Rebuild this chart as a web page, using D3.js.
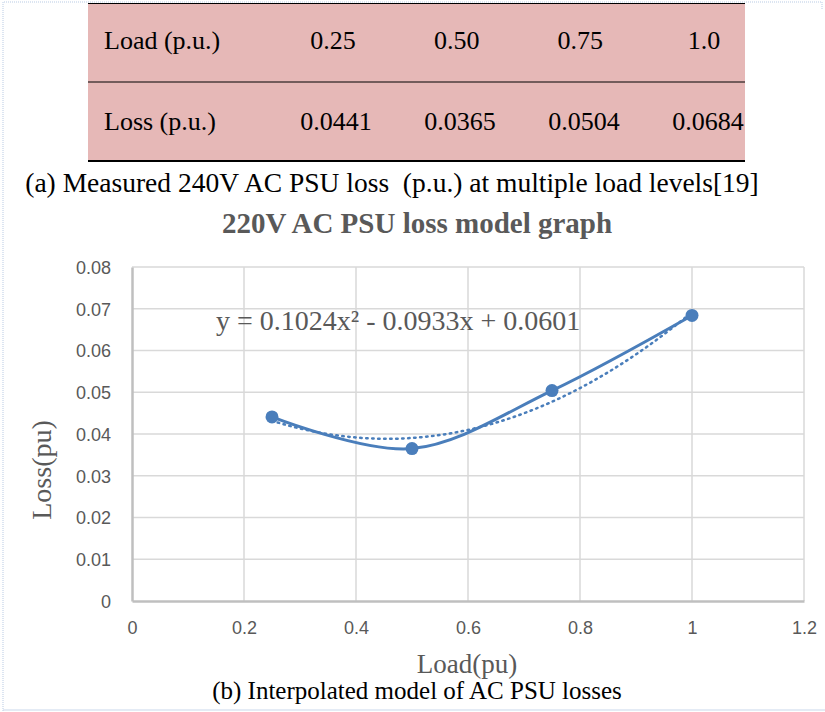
<!DOCTYPE html>
<html>
<head>
<meta charset="utf-8">
<script src="https://cdn.jsdelivr.net/npm/d3@7"></script>
<style>
  html, body { margin: 0; padding: 0; background: #fff; }
  svg { display: block; }
</style>
</head>
<body>
<svg id="fig" width="825" height="712"></svg>
<script>
// Measured PSU loss at each load level
const loadLevels = [0.25, 0.5, 0.75, 1.0];
const loadLabels = ["0.25", "0.50", "0.75", "1.0"];
const lossValues = [0.0441, 0.0365, 0.0504, 0.0684];
const lossLabels = ["0.0441", "0.0365", "0.0504", "0.0684"];

// Quadratic trendline coefficients (a, b, c) for y = a x^2 + b x + c
const trendCoeffs = [0.1024, -0.0933, 0.0601];
const trendLabel = "y = 0.1024x\u00B2 - 0.0933x + 0.0601";

const xTicks = [0, 0.2, 0.4, 0.6, 0.8, 1, 1.2];
const yTicks = [0, 0.01, 0.02, 0.03, 0.04, 0.05, 0.06, 0.07, 0.08];

const svg = d3.select("#fig");
const serif = "'Liberation Serif', 'Times New Roman', serif";
const sans = "'Liberation Sans', Arial, sans-serif";
const blue = "#4a7ebb";
const grey = "#595959";

// faint page frame
svg.append("path")
  .attr("d", "M3,711 L3,2 L822,2 L822,10")
  .attr("fill", "none").attr("stroke", "#b9cbe4").attr("stroke-width", 1)
  .attr("stroke-dasharray", "1,1");
svg.append("line").attr("x1", 3).attr("x2", 825).attr("y1", 710).attr("y2", 710)
  .attr("stroke", "#c9d7ea").attr("stroke-width", 1);

// ---- (a) table ----
const tbl = svg.append("g");
tbl.append("rect").attr("x", 88).attr("y", 3).attr("width", 657).attr("height", 158)
  .attr("fill", "#e6b8b7");
tbl.append("line").attr("x1", 88).attr("x2", 745).attr("y1", 3.5).attr("y2", 3.5)
  .attr("stroke", "#000").attr("stroke-width", 1);
tbl.append("line").attr("x1", 88).attr("x2", 745).attr("y1", 82).attr("y2", 82)
  .attr("stroke", "#000").attr("stroke-width", 1);
tbl.append("line").attr("x1", 88).attr("x2", 745).attr("y1", 161).attr("y2", 161)
  .attr("stroke", "#000").attr("stroke-width", 2);

const rows = [
  { head: "Load (p.u.)", cells: loadLabels, y: 49, range: [333, 704] },
  { head: "Loss (p.u.)", cells: lossLabels, y: 130, range: [336, 708] }
];
rows.forEach(r => {
  const col = d3.scalePoint().domain(d3.range(r.cells.length)).range(r.range);
  tbl.append("text").attr("x", 104).attr("y", r.y).text(r.head)
    .attr("font-family", serif).attr("font-size", 26).attr("fill", "#000");
  tbl.selectAll(null).data(r.cells).join("text")
    .attr("x", (d, i) => col(i)).attr("y", r.y).attr("text-anchor", "middle")
    .attr("font-family", serif).attr("font-size", 26).attr("fill", "#000")
    .text(d => d);
});

svg.append("text").attr("x", 392).attr("y", 192).attr("text-anchor", "middle")
  .attr("font-family", serif).attr("font-size", 27.5).attr("fill", "#000")
  .attr("xml:space", "preserve")
  .text("(a) Measured 240V AC PSU loss  (p.u.) at multiple load levels[19]");

// ---- (b) chart ----
svg.append("text").attr("x", 417).attr("y", 233).attr("text-anchor", "middle")
  .attr("font-family", serif).attr("font-size", 29).attr("font-weight", "bold")
  .attr("fill", grey).text("220V AC PSU loss model graph");

const x = d3.scaleLinear().domain([0, 1.2]).range([132, 804]);
const y = d3.scaleLinear().domain([0, 0.08]).range([601, 267]);

const grid = svg.append("g");
grid.selectAll(".hg").data(yTicks.slice(1)).join("line")
  .attr("x1", x(0)).attr("x2", x(1.2)).attr("y1", d => y(d)).attr("y2", d => y(d))
  .attr("stroke", "#d9d9d9").attr("stroke-width", 1.5);
grid.selectAll(".vg").data(xTicks.slice(1)).join("line")
  .attr("x1", d => x(d)).attr("x2", d => x(d)).attr("y1", y(0)).attr("y2", y(0.08))
  .attr("stroke", "#d9d9d9").attr("stroke-width", 1.5);

// axes
const yAxis = svg.append("g").attr("transform", `translate(${x(0)},0)`)
  .call(d3.axisLeft(y).tickValues(yTicks).tickSize(0).tickPadding(21)
    .tickFormat(d => d === 0 ? "0" : d3.format(".2f")(d)));
const xAxis = svg.append("g").attr("transform", `translate(0,${y(0)})`)
  .call(d3.axisBottom(x).tickValues(xTicks).tickSize(0).tickPadding(20)
    .tickFormat(d => d3.format("~g")(d)));
[yAxis, xAxis].forEach(a => {
  a.select(".domain").attr("stroke", "#bfbfbf").attr("stroke-width", 2.5);
  a.selectAll("text").attr("font-family", sans).attr("font-size", 18).attr("fill", grey);
});
yAxis.selectAll("text").attr("dy", "0.35em");

// axis titles
svg.append("text").attr("transform", "translate(51,470) rotate(-90)")
  .attr("text-anchor", "middle").attr("font-family", serif).attr("font-size", 28)
  .attr("fill", grey).text("Loss(pu)");
svg.append("text").attr("x", 467).attr("y", 673).attr("text-anchor", "middle")
  .attr("font-family", serif).attr("font-size", 27).attr("fill", grey).text("Load(pu)");

// trendline from the stated coefficients
const poly = v => trendCoeffs[0] * v * v + trendCoeffs[1] * v + trendCoeffs[2];
const trendX = d3.range(loadLevels[0], loadLevels[loadLevels.length - 1] + 1e-9, 0.01);
svg.append("path")
  .datum(trendX)
  .attr("d", d3.line().x(d => x(d)).y(d => y(poly(d))))
  .attr("fill", "none").attr("stroke", blue).attr("stroke-width", 2.5)
  .attr("stroke-dasharray", "1.5,4.5").attr("stroke-linecap", "round");

// smoothed measured series
const pts = loadLevels.map((v, i) => [v, lossValues[i]]);
svg.append("path").datum(pts)
  .attr("d", d3.line().x(d => x(d[0])).y(d => y(d[1])).curve(d3.curveCatmullRom.alpha(0)))
  .attr("fill", "none").attr("stroke", blue).attr("stroke-width", 3);
svg.selectAll(".pt").data(pts).join("circle")
  .attr("cx", d => x(d[0])).attr("cy", d => y(d[1])).attr("r", 6.5).attr("fill", blue);

// trend equation
svg.append("text").attr("x", 216).attr("y", 330)
  .attr("font-family", serif).attr("font-size", 28).attr("fill", grey)
  .text(trendLabel);

svg.append("text").attr("x", 417).attr("y", 699).attr("text-anchor", "middle")
  .attr("font-family", serif).attr("font-size", 25).attr("fill", "#000")
  .text("(b) Interpolated model of AC PSU losses");
</script>
</body>
</html>
